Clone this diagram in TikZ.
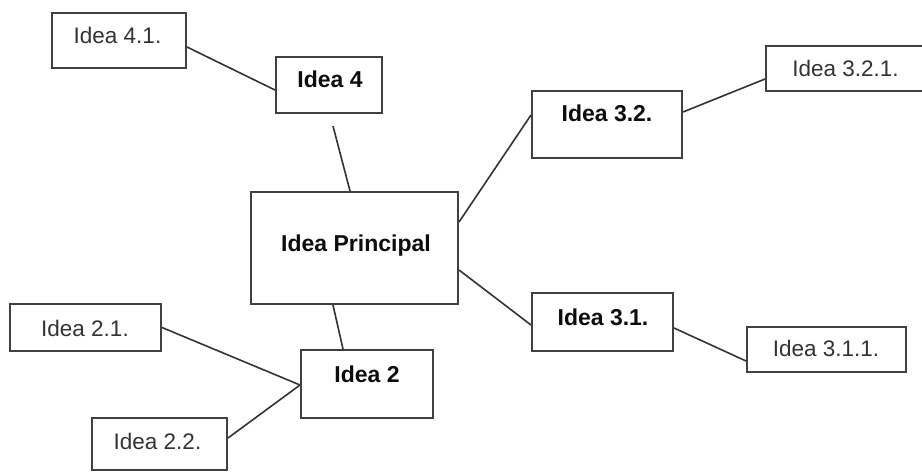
\documentclass[tikz,border=0pt]{standalone}
\usepackage{fontspec}
\setmainfont{Liberation Sans}
\begin{document}
\begin{tikzpicture}[x=1pt,y=-1pt,
  ibox/.style={draw=black!75,line width=2pt,rectangle,inner sep=0pt,fill=white},
  lbold/.style={anchor=base,inner sep=0pt,font=\fontsize{23}{26}\selectfont\bfseries,text=black!95},
  lnorm/.style={anchor=base,inner sep=0pt,font=\fontsize{22.5}{26}\selectfont,text=black!80},
  conn/.style={draw=black!80,line width=1.6pt}]
\useasboundingbox (0,0) rectangle (922,472);
\clip (0,0) rectangle (922,472);
\fill[white] (0,0) rectangle (922,472);
% boxes
\node[ibox,minimum width=134pt,minimum height=55pt] (b41) at (119,40.5) {};
\node[ibox,minimum width=106pt,minimum height=56pt] (b4) at (329,85) {};
\node[ibox,minimum width=150pt,minimum height=67pt] (b32) at (607,124.5) {};
\node[ibox,minimum width=169pt,minimum height=45pt] (b321) at (850.5,68.5) {};
\node[ibox,minimum width=207pt,minimum height=112pt] (bp) at (354.5,248) {};
\node[ibox,minimum width=141pt,minimum height=58pt] (b31) at (602.5,322) {};
\node[ibox,minimum width=159pt,minimum height=45pt] (b311) at (826.5,349.5) {};
\node[ibox,minimum width=151pt,minimum height=47pt] (b21) at (85.5,327.5) {};
\node[ibox,minimum width=132pt,minimum height=68pt] (b2) at (367,384) {};
\node[ibox,minimum width=135pt,minimum height=52pt] (b22) at (159.5,444) {};
% labels
\node[lnorm] (t41) at (117.5,43.3) {Idea 4.1.};
\node[lbold] (t4) at (330,87.5) {Idea 4};
\node[lbold] (t32) at (607,121.7) {Idea 3.2.};
\node[lnorm] (t321) at (845.5,76.9) {Idea 3.2.1.};
\node[lbold] (tp) at (356,251.5) {Idea Principal};
\node[lbold] (t31) at (603,325) {Idea 3.1.};
\node[lnorm] (t311) at (826,356) {Idea 3.1.1.};
\node[lnorm] (t21) at (85,336) {Idea 2.1.};
\node[lbold] (t2) at (367,382.7) {Idea 2};
\node[lnorm] (t22) at (157.5,449) {Idea 2.2.};
% connectors
\coordinate (c4) at ([xshift=4pt,yshift=-12pt]b4.south);
\draw[conn] ([yshift=-6.5pt]b41.east) -- ([yshift=-5pt]b4.west);
\draw[conn] (c4) -- ([xshift=-4.5pt]bp.north);
\draw[conn] ([yshift=26pt]bp.east) -- ([yshift=9.5pt]b32.west);
\draw[conn] ([yshift=12.5pt]b32.east) -- ([yshift=-10.5pt]b321.west);
\draw[conn] ([yshift=-22pt]bp.east) -- ([yshift=-3pt]b31.west);
\draw[conn] ([yshift=-6pt]b31.east) -- ([yshift=-11.5pt]b311.west);
\draw[conn] ([xshift=-21.5pt]bp.south) -- ([xshift=-24pt]b2.north);
\draw[conn] (b21.east) -- ([yshift=-1pt]b2.west);
\draw[conn] ([yshift=6pt]b22.east) -- ([yshift=-1pt]b2.west);
\end{tikzpicture}
\end{document}
